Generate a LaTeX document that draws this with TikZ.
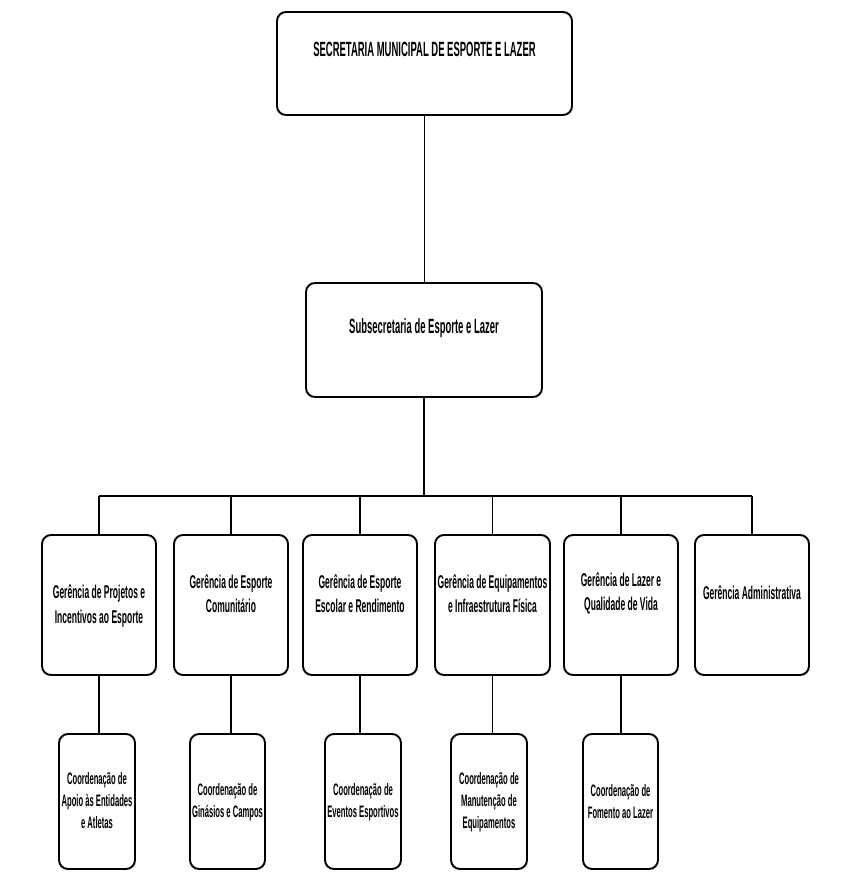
\documentclass[tikz,border=0pt]{standalone}
\usepackage{fontspec}
\setmainfont{Liberation Sans}[FakeStretch=0.46]
\begin{document}
\begin{tikzpicture}[x=1pt,y=-1pt,
  box/.style={draw, line width=1.9pt, rounded corners=9pt, inner sep=0pt, outer sep=0pt},
  conn/.style={line width=1.7pt},
  ttop/.style={font=\fontsize{20.6}{24}\selectfont\bfseries, align=center, inner sep=0pt},
  tg/.style={font=\fontsize{18.5}{24.5}\selectfont\bfseries, align=center, inner sep=0pt},
  tc/.style={font=\fontsize{16.6}{22}\selectfont\bfseries, align=center, inner sep=0pt}]
\useasboundingbox (0,0) rectangle (864,889);
% top levels
\node[box, minimum width=295pt, minimum height=103pt] (top) at (424.5,63.5) {};
\node[ttop] (ttop) at (424.5,49) {SECRETARIA MUNICIPAL DE ESPORTE E LAZER};
\node[box, minimum width=236pt, minimum height=114pt] (sub) at (424,340) {};
\node[ttop] (tsub) at (424,328) {Subsecretaria de Esporte e Lazer};
% gerencias
\foreach \n/\x/\w in {g1/99/114, g2/231/114, g3/360/114, g4/492.5/115, g5/621/114, g6/752/114}
  \node[box, minimum width=\w pt, minimum height=140pt] (\n) at (\x,605) {};
\node[tg] (tg1) at (99,606) {Gerência de Projetos e\\Incentivos ao Esporte};
\node[tg] (tg2) at (231,593.5) {Gerência de Esporte\\Comunitário};
\node[tg] (tg3) at (360,593.5) {Gerência de Esporte\\Escolar e Rendimento};
\node[tg] (tg4) at (492.5,593.5) {Gerência de Equipamentos\\e Infraestrutura Física};
\node[tg] (tg5) at (621,593.5) {Gerência de Lazer e\\Qualidade de Vida};
\node[tg] (tg6) at (752,593) {Gerência Administrativa};
% coordenacoes
\foreach \n/\x/\w in {c1/97/76, c2/227.5/75, c3/363/76, c4/489/76, c5/620.5/75}
  \node[box, minimum width=\w pt, minimum height=135pt] (\n) at (\x,801.5) {};
\node[tc] (tc1) at (97,801) {Coordenação de\\Apoio às Entidades\\e Atletas};
\node[tc] (tc2) at (227.5,802) {Coordenação de\\Ginásios e Campos};
\node[tc] (tc3) at (363,802) {Coordenação de\\Eventos Esportivos};
\node[tc] (tc4) at (489,802) {Coordenação de\\Manutenção de\\Equipamentos};
\node[tc] (tc5) at (620.5,802) {Coordenação de\\Fomento ao Lazer};
% connectors
\coordinate (bus) at (424,496);
\draw[conn] (top.south) -- (top.south |- sub.north);
\draw[conn] (sub.south) -- (sub.south |- bus);
\draw[conn] (g1.north |- bus) -- (g6.north |- bus);
\foreach \n in {g1,g2,g3,g4,g5,g6}
  \draw[conn] (\n.north) -- (\n.north |- bus);
\foreach \g/\c in {g1/c1,g2/c2,g3/c3,g4/c4,g5/c5}
  \draw[conn] (\g.south) -- (\g.south |- \c.north);
\end{tikzpicture}
\end{document}
